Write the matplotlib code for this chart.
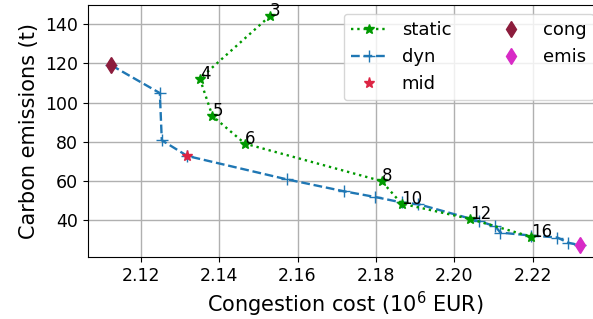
import matplotlib
matplotlib.use("Agg")
import matplotlib.pyplot as plt

# static solutions, labelled by number of periods
static_x = [2.1529, 2.1351, 2.1383, 2.1466, 2.1814, 2.1865, 2.2039, 2.2195]
static_y = [144.1, 112.3, 93.2, 79.1, 60.0, 48.5, 40.7, 31.6]
static_lbl = ["3", "4", "5", "6", "8", "10", "12", "16"]

# dynamic pareto front
dyn_x = [2.1125, 2.1249, 2.1254, 2.1319, 2.1572, 2.1718, 2.1797, 2.1865,
         2.1908, 2.2062, 2.2104, 2.2117, 2.2195, 2.2262, 2.2289, 2.2319]
dyn_y = [119.1, 104.9, 80.8, 72.8, 60.9, 54.8, 51.9, 49.1,
         48.2, 39.6, 36.9, 33.7, 32.2, 31.2, 28.6, 27.2]

mid_x, mid_y = 2.1319, 72.8
cong_x, cong_y = 2.1125, 119.1
emis_x, emis_y = 2.2319, 27.2

fig = plt.figure(figsize=(5.93, 3.19), dpi=100)
ax = fig.add_axes([0.148, 0.195, 0.869, 0.79])

ax.plot(static_x, static_y, ':', color='#009900', marker='*', markersize=7,
        linewidth=1.7, label='static', zorder=3)
ax.plot(dyn_x, dyn_y, '--', color='#1f77b4', marker='+', markersize=8,
        linewidth=1.7, label='dyn', zorder=2)
ax.plot(mid_x, mid_y, '*', color='#dc2443', markersize=8, label='mid', zorder=4)
ax.plot(cong_x, cong_y, 'd', color='#8c1c3c', markersize=8, label='cong', zorder=4)
ax.plot(emis_x, emis_y, 'd', color='#d82ac6', markersize=8, label='emis', zorder=4)

for x, y, t in zip(static_x, static_y, static_lbl):
    ax.annotate(t, (x, y), fontsize=12)

ax.grid(True, color='#b0b0b0', linewidth=1)
ax.set_axisbelow(True)
ax.set_xticks([2.12, 2.14, 2.16, 2.18, 2.20, 2.22])
ax.set_yticks([40, 60, 80, 100, 120, 140])
ax.tick_params(labelsize=12.5)
ax.set_xlabel('Congestion cost ($10^6$ EUR)', fontsize=15)
ax.set_ylabel('Carbon emissions (t)', fontsize=15)
ax.legend(loc='upper right', ncol=2, fontsize=13, columnspacing=2.3)

fig.savefig('out.png', dpi=100)
